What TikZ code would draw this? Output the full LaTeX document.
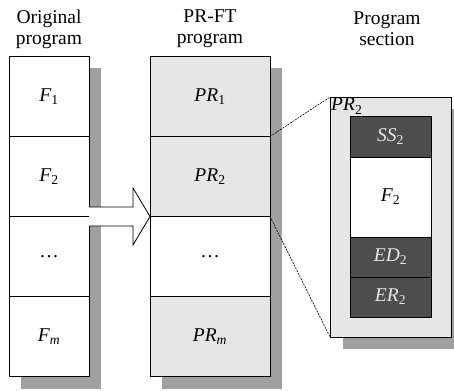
\documentclass[tikz,border=0pt]{standalone}
\usepackage{fontspec}
\setmainfont{Liberation Serif}
\usetikzlibrary{calc}

\definecolor{paper}{HTML}{E6E6E6}
\definecolor{dropgray}{HTML}{A0A0A0}
\definecolor{ink}{HTML}{4D4D4D}
\newcommand{\ind}[2]{\textit{#1}\textsubscript{#2}}

\begin{document}
\begin{tikzpicture}[x=1pt,y=-1pt,
    every node/.append style={font=\fontsize{19.5}{21}\selectfont},
    cell/.style={draw, line width=0.8pt, minimum width=80pt, minimum height=80pt, inner sep=0pt, outer sep=0pt},
    wide/.style={cell, minimum width=120pt, fill=paper},
    part/.style={cell, minimum width=81pt, minimum height=40pt, fill=ink, text=paper},
    zoomline/.style={line width=0.6pt, dash pattern=on 2pt off 1pt}]
\useasboundingbox (0,0) rectangle (454,390);

% titles
\node[align=center] (t1) at (49,29) {Original\\program};
\node[align=center] (t2) at (210,29) {PR-FT\\program};
\node[align=center] (t3) at (387,29) {Program\\section};

% original program
\fill[dropgray] (21,68.5) rectangle (101,388.5);
\node[cell, fill=white] (f1) at (49,96.5) {\ind{F}{1}};
\node[cell, fill=white] (f2) at (49,176.5) {\ind{F}{2}};
\node[cell, fill=white] (fd) at (49,256.5) {\dots};
\node[cell, fill=white] (fm) at (49,336.5) {\ind{F}{\textit{m}}};

% PR-FT program
\fill[dropgray] (162,68.5) rectangle (282,388.5);
\node[wide] (pr1) at (210,96.5) {\ind{PR}{1}};
\node[wide] (pr2) at (210,176.5) {\ind{PR}{2}};
\node[wide, fill=white] (prd) at (210,256.5) {\dots};
\node[wide] (prm) at (210,336.5) {\ind{PR}{\textit{m}}};

% big arrow
\draw[line width=0.8pt, fill=white] ($(f2.south east)+(0,-9.5)$) -- ++(44,0) -- ++(0,-19)
    -- (pr2.south west) -- ++(-17,28.5) -- ++(0,-19) -- ++(-44,0);

% program section
\fill[dropgray] (342.5,109) rectangle (454,349);
\node[cell, minimum width=121pt, minimum height=240pt, fill=paper] (sec) at (390.5,217) {};
\node[anchor=north west, inner sep=1pt] (lbl) at (sec.north west) {\ind{PR}{2}};
\node[part, minimum height=41pt] (ss) at (390.5,136.5) {\ind{SS}{2}};
\node[cell, minimum width=81pt, fill=white] (f2s) at (390.5,197) {\ind{F}{2}};
\node[part] (ed) at (390.5,257) {\ind{ED}{2}};
\node[part] (er) at (390.5,297) {\ind{ER}{2}};

\draw[zoomline] (pr1.south east) -- (sec.north west);
\draw[zoomline] (pr2.south east) -- (sec.south west);

\end{tikzpicture}
\end{document}
